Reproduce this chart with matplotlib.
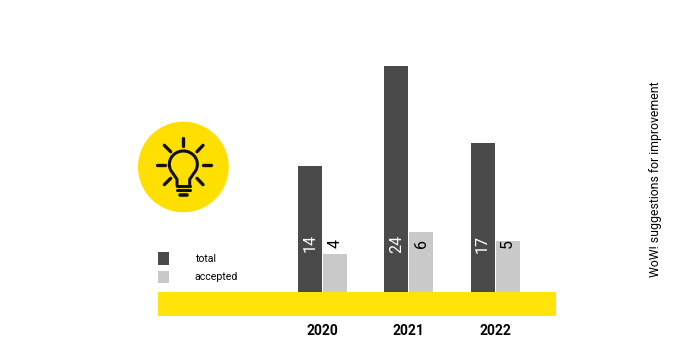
import numpy as np
import matplotlib
matplotlib.use("Agg")
import matplotlib.pyplot as plt
from matplotlib.patches import Circle, Rectangle

years = ["2020", "2021", "2022"]
# printed numbers
total_labels = [14, 24, 17]
accepted_labels = [4, 6, 5]
# bar heights (not quite proportional to the printed numbers)
total_heights = [13.4, 24.0, 15.8]
accepted_heights = [4.0, 6.4, 5.4]
series_names = ["total", "accepted"]
side_title = "WoW! suggestions for improvement"

YELLOW = "#FFE40A"
DARK = "#4A4A4A"
LIGHT = "#C9C9C9"
W, H = 680, 360

plt.rcParams["font.family"] = ["Roboto", "DejaVu Sans"]

fig = plt.figure(figsize=(W / 100, H / 100), dpi=100)


# axes placed by pixel box, measured from the top left
def pixel_axes(x0, y0, x1, y1):
    return fig.add_axes([x0 / W, 1 - y1 / H, (x1 - x0) / W, (y1 - y0) / H])


# main chart, y=0 sits on top of the yellow band
ax = pixel_axes(158, 60, 556, 316)
px_x = 86.25
px_y = 9.42
ax.set_xlim((158 - 322.5) / px_x, (556 - 322.5) / px_x)
ax.set_ylim(-24 / px_y, 232 / px_y)
ax.axis("off")
ax.add_patch(Rectangle((ax.get_xlim()[0], -24 / px_y), (556 - 158) / px_x, 24 / px_y,
                       facecolor=YELLOW, edgecolor="none"))

x = np.arange(len(years))
w = 24 / px_x
off = 12.5 / px_x
b1 = ax.bar(x - off, total_heights, w, color=DARK, label=series_names[0])
b2 = ax.bar(x + off, accepted_heights, w, color=LIGHT, label=series_names[1])

label_y = 5.15
for i in x:
    ax.text(i - off, label_y, str(total_labels[i]), rotation=90, color="white",
            ha="center", va="center", fontsize=11.5)
    ax.text(i + off, label_y, str(accepted_labels[i]), rotation=90, color="black",
            ha="center", va="center", fontsize=11.5)
    ax.text(i, -39 / px_y, years[i], ha="center", va="center", fontsize=10,
            fontweight="bold", clip_on=False)

ax.legend(handles=[b1, b2], loc="lower left", bbox_to_anchor=(0, 33 / 256),
          frameon=False, fontsize=7.6, handlelength=1.04, handleheight=1.4,
          handletextpad=2.45, labelspacing=0.58, borderpad=0, borderaxespad=0)

fig.text(656 / W, 1 - 179 / H, side_title, rotation=90, ha="center", va="center", fontsize=8.85)

# light bulb icon, coordinates in the same frame as a 3x crop
icon = pixel_axes(130, 110, 250, 220)
icon.set_xlim(0, 360)
icon.set_ylim(330, 0)
icon.axis("off")
icon.add_patch(Circle((160, 171), 136, facecolor="#FFDF00", edgecolor="none"))
rays = [((160, 84), (160, 108)), ((80, 165), (104, 165)), ((218, 165), (243, 165)),
        ((103, 106), (122, 125)), ((219, 106), (201, 125)),
        ((103, 224), (122, 205)), ((219, 224), (201, 205))]
for a, b in rays:
    icon.plot([a[0], b[0]], [a[1], b[1]], color="#111111", lw=2.4, solid_capstyle="round")
t = np.radians(np.linspace(220, -40, 60))
bx = list(160 + 42 * np.cos(t))
by = list(163 - 40 * np.sin(t))
bx = [141, 141] + bx + [179, 179]
by = [226, 208] + by + [208, 226]
icon.plot(bx, by, color="#111111", lw=2.2, solid_joinstyle="round", solid_capstyle="round")
icon.plot([140, 180], [228, 228], color="#111111", lw=2.2, solid_capstyle="round")
icon.plot([141, 179], [241, 241], color="#111111", lw=2.2, solid_capstyle="round")
icon.plot([150, 170], [255, 255], color="#111111", lw=2.6, solid_capstyle="round")

fig.savefig("out.png", dpi=100)
